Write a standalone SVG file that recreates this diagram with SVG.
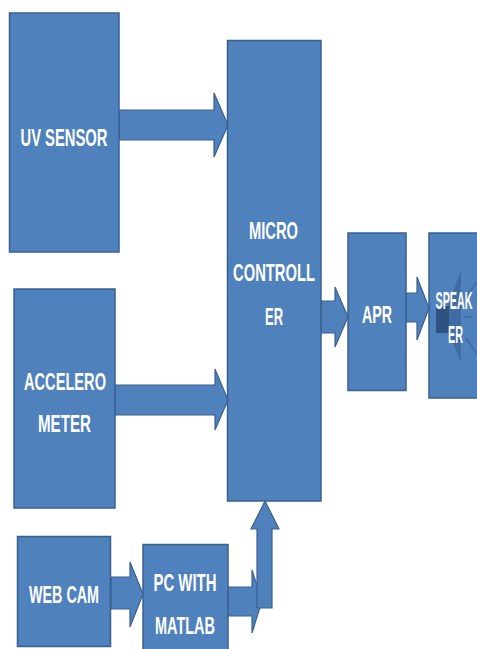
<svg xmlns="http://www.w3.org/2000/svg" width="477" height="649" viewBox="0 0 477 649">
<style>
.box{fill:#4F81BD;stroke:#3A6090;stroke-width:1.5}
.arr{fill:#4F81BD;stroke:#3A6090;stroke-width:1.2;stroke-linejoin:miter}
.t{fill:#FFFFFF;font-family:"Liberation Sans Narrow","Liberation Sans",Arial,sans-serif;font-weight:bold;font-size:24px;text-anchor:middle}
</style>
<rect width="477" height="649" fill="#FFFFFF"/>
<g id="connectors">
<polygon class="arr" points="119,110 214,110 214,93 228,125 214,157 214,140 119,140"/>
<polygon class="arr" points="115,385 215,385 215,369 228,400 215,430 215,415 115,415"/>
<polygon class="arr" points="111,577 130,577 130,562 143,594 130,627 130,609 111,609"/>
<polygon class="arr" points="228,587 252,587 252,570 262,601 252,633 252,616 228,616"/>
<polygon class="arr" points="257,608 257,529 251,529 265,501 279,529 272,529 272,608"/>
<polygon class="arr" points="321,301 335,301 335,287 348,317 335,347 335,333 321,333"/>
<polygon class="arr" points="406,293 417,293 417,277 429,308 417,340 417,322 406,322"/>
</g>
<g id="uv-sensor">
<rect class="box" x="9.5" y="13" width="109.5" height="239"/>
<text class="t" x="64" y="146" textLength="87" lengthAdjust="spacingAndGlyphs">UV SENSOR</text>
</g>
<g id="accelerometer">
<rect class="box" x="14" y="289" width="101" height="219"/>
<text class="t" x="65" y="390" textLength="82" lengthAdjust="spacingAndGlyphs">ACCELERO</text>
<text class="t" x="64.5" y="432" textLength="53" lengthAdjust="spacingAndGlyphs">METER</text>
</g>
<g id="web-cam">
<rect class="box" x="17.5" y="536.5" width="93" height="110"/>
<text class="t" x="64" y="603" textLength="70" lengthAdjust="spacingAndGlyphs">WEB CAM</text>
</g>
<g id="pc-with-matlab">
<rect class="box" x="143" y="544.5" width="85" height="110"/>
<text class="t" x="185" y="591" textLength="63" lengthAdjust="spacingAndGlyphs">PC WITH</text>
<text class="t" x="185" y="634" textLength="60" lengthAdjust="spacingAndGlyphs">MATLAB</text>
</g>
<g id="microcontroller">
<rect class="box" x="227.5" y="40.5" width="93.5" height="460.5"/>
<text class="t" x="273.5" y="239" textLength="49" lengthAdjust="spacingAndGlyphs">MICRO</text>
<text class="t" x="274" y="281" textLength="82" lengthAdjust="spacingAndGlyphs">CONTROLL</text>
<text class="t" x="274" y="325" textLength="18" lengthAdjust="spacingAndGlyphs">ER</text>
</g>
<g id="apr">
<rect class="box" x="348" y="233" width="58" height="157.5"/>
<text class="t" x="377" y="323" font-size="22" textLength="30" lengthAdjust="spacingAndGlyphs">APR</text>
</g>
<g id="speaker">
<rect class="box" x="429" y="233" width="52" height="165"/>
<polygon points="448,305 461,270 461,362 448,333" fill="#3F6CA3"/>
<rect x="436" y="306" width="13" height="27" fill="#2E5380"/>
<line x1="464" y1="317" x2="472" y2="317" stroke="#3F6CA3" stroke-width="1.5"/>
<line x1="466" y1="338" x2="477" y2="354" stroke="#3F6CA3" stroke-width="1.5"/>
<line x1="466" y1="297" x2="477" y2="282" stroke="#3F6CA3" stroke-width="1.5"/>
<text class="t" x="454" y="309" font-size="19" textLength="37" lengthAdjust="spacingAndGlyphs">SPEAK</text>
<text class="t" x="455.5" y="343" font-size="19" textLength="15" lengthAdjust="spacingAndGlyphs">ER</text>
</g>
</svg>
